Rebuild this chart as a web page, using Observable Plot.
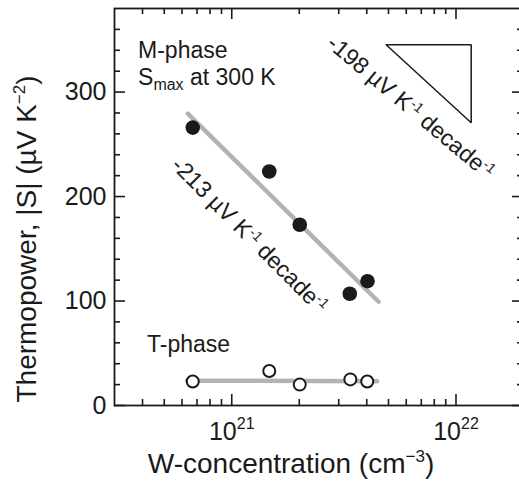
<!DOCTYPE html>
<html><head><meta charset="utf-8">
<script src="https://cdn.jsdelivr.net/npm/d3@7"></script>
<script src="https://cdn.jsdelivr.net/npm/@observablehq/plot@0.6"></script>
<style>html,body{margin:0;padding:0;background:#fff;overflow:hidden}</style>
</head><body><div id="chart"></div>
<script>
// M-phase (filled) and T-phase (open) thermopower vs W concentration
const mConc = [6.7e20, 1.47e21, 2.01e21, 3.36e21, 4.03e21];
const mS    = [266, 224, 173, 107, 119];
const tConc = [6.7e20, 1.47e21, 2.01e21, 3.38e21, 4.02e21];
const tS    = [23, 33, 20, 25, 23];
// gray fit lines (end points)
const mFitConc = [6.37e20, 4.52e21];
const mFitS    = [279.4, 99.3];
const tFitConc = [6.32e20, 4.45e21];
const tFitS    = [23.8, 23.2];
// slope triangle
const triConc = [4.88e21, 1.169e22, 1.169e22, 4.88e21];
const triS    = [345.3, 345.3, 270.6, 345.3];
// ticks
const xMajor = [1e21, 1e22];
const xMinor = [4e20,5e20,6e20,7e20,8e20,9e20,2e21,3e21,4e21,5e21,6e21,7e21,8e21,9e21,2e22];
const yMajor = [0, 100, 200, 300];
const yMinor = [20,40,60,80,120,140,160,180,220,240,260,280,320,340,360];

const toRows = (xs, ys) => xs.map((x, i) => ({x, y: ys[i]}));

const W = 519, H = 482, mL = 114, mR = -4, mT = 8, mB = 77;
const plotW = W - mL - mR, plotH = H - mT - mB;
const ink = "#1a1a1a";
const tk = {stroke: ink, strokeWidth: 1.6};

const chart = Plot.plot({
  width: W, height: H,
  marginLeft: mL, marginRight: mR, marginTop: mT, marginBottom: mB,
  x: {type: "log", domain: [3e20, 2e22]},
  y: {domain: [0, 380]},
  style: {fontFamily: "'Liberation Sans', Arial, Helvetica, sans-serif", background: "white", color: ink},
  marks: [
    // inward ticks, all four sides
    Plot.tickX(xMajor, {x: d => d, insetTop: plotH - 11, ...tk}),
    Plot.tickX(xMinor, {x: d => d, insetTop: plotH - 6, ...tk}),
    Plot.tickX(xMajor, {x: d => d, insetBottom: plotH - 11, ...tk}),
    Plot.tickX(xMinor, {x: d => d, insetBottom: plotH - 6, ...tk}),
    Plot.tickY(yMajor, {y: d => d, insetRight: plotW - 11, ...tk}),
    Plot.tickY(yMinor, {y: d => d, insetRight: plotW - 6, ...tk}),
    Plot.tickY(yMajor, {y: d => d, insetLeft: plotW - 11, ...tk}),
    Plot.tickY(yMinor, {y: d => d, insetLeft: plotW - 6, ...tk}),
    Plot.axisY({ticks: yMajor, tickSize: 0, tickPadding: 8, fontSize: 25, label: null, tickFormat: d => String(d)}),
    Plot.axisX({ticks: xMajor, tickSize: 0, tickPadding: 17, fontSize: 25, label: null,
                tickFormat: d => String(Math.round(Math.log10(d)))}),
    Plot.frame({stroke: ink, strokeWidth: 1.8}),
    // fit lines
    Plot.line(toRows(mFitConc, mFitS), {x: "x", y: "y", stroke: "#b3b3b3", strokeWidth: 4.5}),
    Plot.line(toRows(tFitConc, tFitS), {x: "x", y: "y", stroke: "#b3b3b3", strokeWidth: 4.5}),
    // triangle
    Plot.line(toRows(triConc, triS), {x: "x", y: "y", stroke: ink, strokeWidth: 1.5, strokeLinejoin: "miter"}),
    // points
    Plot.dot(toRows(mConc, mS), {x: "x", y: "y", r: 7.3, fill: ink, stroke: "none"}),
    Plot.dot(toRows(tConc, tS), {x: "x", y: "y", r: 6, fill: "white", stroke: ink, strokeWidth: 2})
  ]
});
document.getElementById("chart").appendChild(chart);

const svg = d3.select(chart);
const sx = chart.scale("x"), sy = chart.scale("y");

// x tick labels as powers of ten
svg.selectAll('g[aria-label="x-axis tick label"] text').each(function () {
  const e = this.textContent;
  const t = d3.select(this);
  t.text("10");
  t.append("tspan").attr("dy", "-11px").attr("font-size", "16px").text(e);
});

const font = "'Liberation Sans', Arial, Helvetica, sans-serif";
const g = svg.append("g").attr("font-family", font).attr("fill", ink);

// axis titles
const xt = g.append("text").attr("x", 291).attr("y", 473).attr("text-anchor", "middle").attr("font-size", 28);
xt.append("tspan").text("W-concentration (cm");
xt.append("tspan").attr("dy", "-11px").attr("font-size", "17px").text("\u22123");
xt.append("tspan").attr("dy", "11px").text(")");

const yt = g.append("text").attr("transform", "translate(36,239) rotate(-90)").attr("text-anchor", "middle").attr("font-size", 28);
yt.append("tspan").text("Thermopower, |S| (\u00b5V K");
yt.append("tspan").attr("dy", "-11px").attr("font-size", "17px").text("\u22122");
yt.append("tspan").attr("dy", "11px").text(")");

// annotations
const annX = [3.84e20, 3.84e20, 4.21e20];
const annY = [332.2, 306.3, 50.7];
g.append("text").attr("text-anchor", "start").attr("x", sx.apply(annX[0])).attr("y", sy.apply(annY[0])).attr("font-size", 23).text("M-phase");
const sm = g.append("text").attr("text-anchor", "start").attr("x", sx.apply(annX[1])).attr("y", sy.apply(annY[1])).attr("font-size", 23);
sm.append("tspan").text("S");
sm.append("tspan").attr("dy", "5px").attr("font-size", "16px").text("max");
sm.append("tspan").attr("dy", "-5px").text(" at 300 K");
g.append("text").attr("text-anchor", "start").attr("x", sx.apply(annX[2])).attr("y", sy.apply(annY[2])).attr("font-size", 23).text("T-phase");

// rotated slope labels
const slopeX = [1.21e21, 6.33e21];
const slopeY = [162.7, 285.3];
const slopeAngle = [45, 40];
const slopeVal = ["-213", "-198"];
slopeVal.forEach((v, i) => {
  const t = g.append("text")
    .attr("transform", `translate(${sx.apply(slopeX[i])},${sy.apply(slopeY[i])}) rotate(${slopeAngle[i]})`)
    .attr("text-anchor", "middle").attr("dy", "0.35em").attr("font-size", 23);
  t.append("tspan").text(v + " \u00b5V K");
  t.append("tspan").attr("dy", "-8px").attr("font-size", "14px").text("-1");
  t.append("tspan").attr("dy", "8px").text(" decade");
  t.append("tspan").attr("dy", "-8px").attr("font-size", "14px").text("-1");
});
</script>
</body></html>
